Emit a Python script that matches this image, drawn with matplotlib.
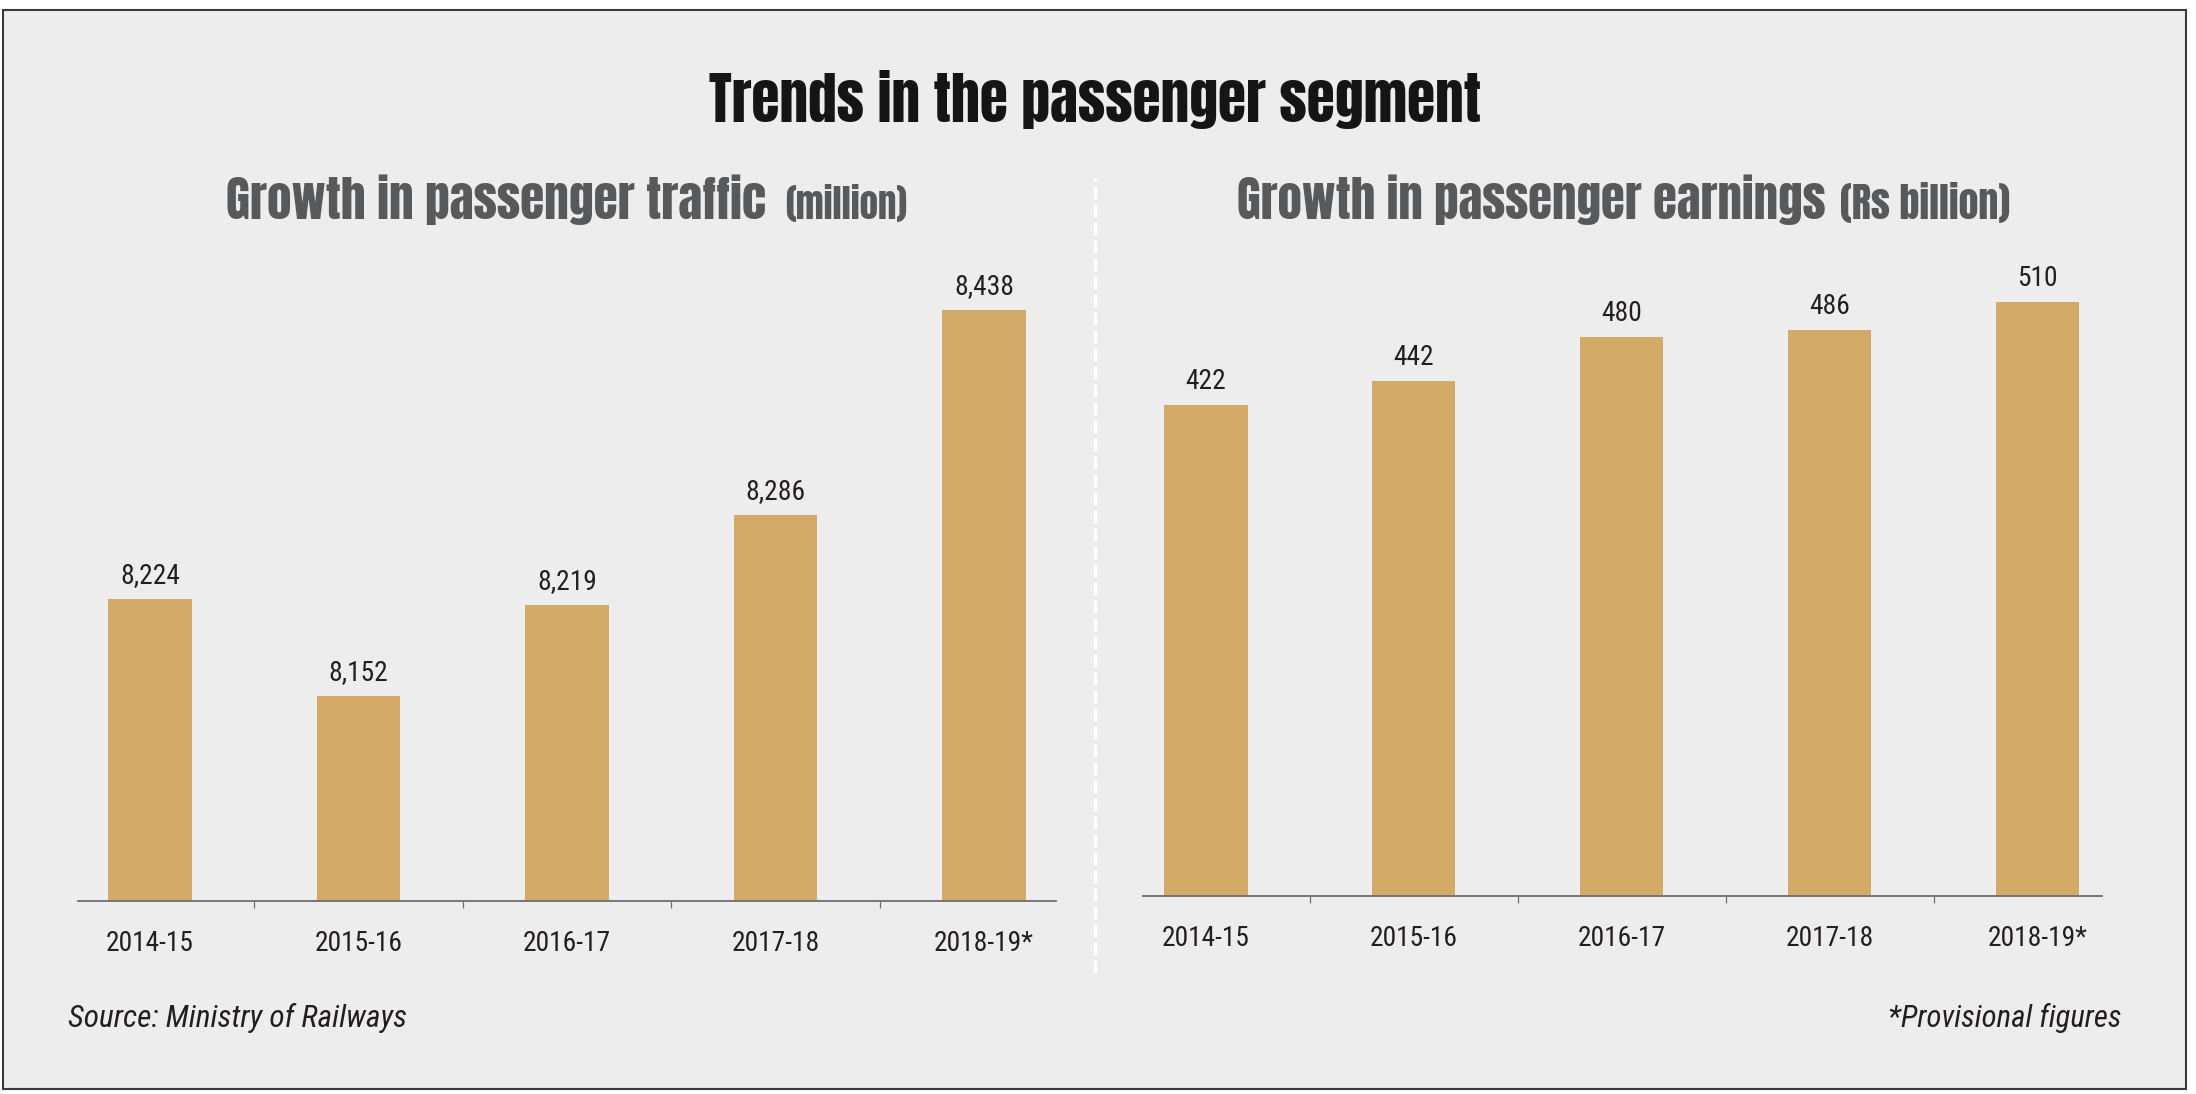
import matplotlib
matplotlib.use("Agg")
import matplotlib.pyplot as plt
from matplotlib.patches import Rectangle
from matplotlib.lines import Line2D

# data
years = ["2014-15", "2015-16", "2016-17", "2017-18", "2018-19*"]
traffic = [8224, 8152, 8219, 8286, 8438]      # million passengers
earnings = [422, 442, 480, 486, 510]          # Rs billion

BAR = "#d3aa67"
BG = "#ededed"
TXT = "#231f20"
SUB = "#58595b"
AXIS = "#6d6e71"
HEAVY = ["Anton", "Oswald", "Fjalla One", "IBM Plex Sans Condensed", "DejaVu Sans"]
NARROW = ["Roboto Condensed", "Archivo Narrow", "PT Sans Narrow",
          "IBM Plex Sans Condensed", "DejaVu Sans"]

plt.rcParams["font.family"] = NARROW

W, H = 2196, 1094
fig = plt.figure(figsize=(W / 100, H / 100), dpi=100, facecolor="white")
renderer = fig.canvas.get_renderer()


def fit(t, target_px):
    # scale a text's font size so it spans target_px pixels
    for _ in range(3):
        w = t.get_window_extent(renderer).width
        t.set_fontsize(t.get_fontsize() * target_px / w)
    return t.get_fontsize()


# framed light grey panel
fig.patches.append(Rectangle((3 / W, 1 - 1089 / H), (2186 - 3) / W, (1089 - 10) / H,
                             transform=fig.transFigure, facecolor=BG,
                             edgecolor="#3a3a3a", linewidth=1.5, zorder=-10))

# white dashed divider between the two panels
fig.lines.append(Line2D([1095 / W, 1095 / W], [1 - 973 / H, 1 - 178 / H],
                        transform=fig.transFigure, color="white", linewidth=2.4,
                        dashes=(3.8, 1.6), zorder=-5))

# font size for the small labels, sized so "2014-15" is ~88 px wide
probe = fig.text(0, 0, years[0], fontsize=20)
LABEL_FS = fit(probe, 88)
probe.remove()


def bar_panel(rect, values, ylim, xlim, fmt):
    ax = fig.add_axes(rect)
    ax.set_facecolor("none")
    x = list(range(len(values)))
    ax.bar(x, values, width=0.4, color=BAR, zorder=2)
    ax.set_ylim(*ylim)
    ax.set_xlim(*xlim)
    for s in ["top", "left", "right"]:
        ax.spines[s].set_visible(False)
    ax.spines["bottom"].set_color(AXIS)
    ax.spines["bottom"].set_linewidth(1.3)
    ax.set_yticks([])
    ax.set_xticks(x)
    ax.set_xticklabels(years, fontsize=LABEL_FS, color=TXT)
    ax.tick_params(axis="x", which="major", length=0, pad=21)
    ax.set_xticks([i + 0.5 for i in x[:-1]], minor=True)
    ax.tick_params(axis="x", which="minor", length=5, width=0.9, color=AXIS,
                   direction="out")
    for xi, v in zip(x, values):
        ax.annotate(fmt.format(v), (xi, v), xytext=(0, 11.5),
                    textcoords="offset points", ha="center", va="baseline",
                    fontsize=LABEL_FS, color=TXT)
    return ax


bar_panel([78 / W, 1 - 901 / H, (1056 - 78) / W, 648 / H], traffic,
          (8000, 8480), (-0.345, 4.345), "{:,}")
bar_panel([1143 / W, 1 - 896 / H, (2102 - 1143) / W, 652 / H], earnings,
          (0, 560), (-0.303, 4.31), "{:,}")

# headline
title = fig.text(709 / W, 1 - 122 / H, "Trends in the passenger segment",
                 ha="left", va="baseline", fontsize=40, family=HEAVY,
                 color="#151515")
fit(title, 1481 - 709)


def subtitle(x1, w1, main, x2, w2, unit):
    t1 = fig.text(x1 / W, 1 - 219 / H, main, ha="left", va="baseline",
                  fontsize=36, family=HEAVY, color=SUB)
    fit(t1, w1)
    t2 = fig.text(x2 / W, 1 - 219 / H, unit, ha="left", va="baseline",
                  fontsize=24, family=HEAVY, color=SUB)
    fit(t2, w2)


subtitle(226, 767 - 226, "Growth in passenger traffic", 785, 907 - 785, "(million)")
subtitle(1237, 1825 - 1237, "Growth in passenger earnings", 1840, 2010 - 1840,
         "(Rs billion)")

# footnotes
src = fig.text(68 / W, 1 - 1027 / H, "Source: Ministry of Railways", ha="left",
               va="baseline", fontsize=24, style="italic", color=TXT)
fit(src, 407 - 68)
prov = fig.text(2122 / W, 1 - 1027 / H, "*Provisional figures", ha="right",
                va="baseline", fontsize=24, style="italic", color=TXT)
fit(prov, 2122 - 1889)

fig.savefig("out.png", dpi=100, facecolor="white")
